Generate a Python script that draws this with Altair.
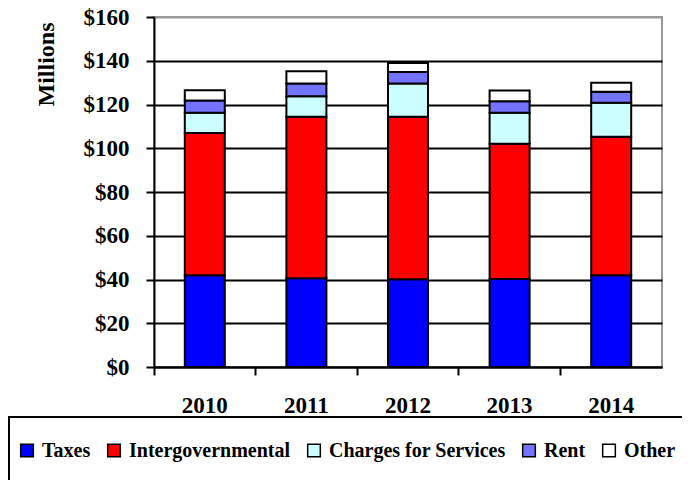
import altair as alt
import pandas as pd

years = ["2010", "2011", "2012", "2013", "2014"]
categories = ["Taxes", "Intergovernmental", "Charges for Services", "Rent", "Other"]
taxes = [41.9, 40.6, 40.1, 40.2, 41.9]
intergovernmental = [65.1, 73.8, 74.3, 61.9, 63.4]
charges = [9.2, 9.4, 15.2, 14.1, 15.5]
rent = [5.6, 5.8, 5.3, 5.3, 5.0]
other = [4.7, 5.6, 4.1, 4.9, 4.1]
y_ticks = [0, 20, 40, 60, 80, 100, 120, 140, 160]
colors = ["#0000ff", "#ff0000", "#ccffff", "#7373ff", "#ffffff"]

series = [taxes, intergovernmental, charges, rent, other]
rows = []
for i, yr in enumerate(years):
    for j, cat in enumerate(categories):
        rows.append({"Year": yr, "Source": cat, "Value": series[j][i], "order": j})
df = pd.DataFrame(rows)

FONT = "Liberation Serif"

bars = alt.Chart(df).mark_bar(width=40, stroke="black", strokeWidth=2).encode(
    x=alt.X(
        "Year:N",
        sort=years,
        scale=alt.Scale(paddingInner=0, paddingOuter=0),
        axis=alt.Axis(
            title=None, labelAngle=0, bandPosition=0,
            labelFont=FONT, labelFontSize=23, labelFontWeight="bold", labelColor="black",
            labelPadding=19, tickSize=8, tickWidth=2, tickColor="black",
            domainColor="black", domainWidth=2, grid=False,
        ),
    ),
    y=alt.Y(
        "Value:Q",
        stack="zero",
        scale=alt.Scale(domain=[0, 160], nice=False),
        axis=alt.Axis(
            values=y_ticks, labelExpr="'$' + datum.value",
            title="Millions", titleFont=FONT, titleFontSize=24, titleFontWeight="bold",
            titleColor="black", titleAngle=-90, titleX=-108, titleY=5,
            titleAlign="right", titleBaseline="middle",
            labelFont=FONT, labelFontSize=23, labelFontWeight="bold", labelColor="black",
            labelPadding=17, tickSize=8, tickWidth=2, tickColor="black",
            domainColor="black", domainWidth=2,
            grid=True, gridWidth=2,
            gridColor=alt.condition("datum.value == 160", alt.value("#999999"), alt.value("black")),
        ),
    ),
    color=alt.Color(
        "Source:N",
        sort=categories,
        scale=alt.Scale(domain=categories, range=colors),
        legend=alt.Legend(
            title=None, orient="none", legendX=-137, legendY=423.5, direction="horizontal",
            symbolType="square", symbolSize=160, symbolStrokeColor="black",
            symbolStrokeWidth=1.5, symbolOpacity=1,
            labelFont=FONT, labelFontSize=20, labelFontWeight="bold", labelColor="black",
            labelLimit=400, labelOffset=5, columnPadding=13,
        ),
    ),
    order=alt.Order("order:Q"),
)

box = alt.Chart(alt.Data(values=[{}])).mark_rect(
    fillOpacity=0, stroke="black", strokeWidth=2
).encode(
    x=alt.value(-145), x2=alt.value(529), y=alt.value(400), y2=alt.value(490)
)

chart = alt.layer(bars, box).properties(
    width=508,
    height=350,
    padding={"left": 146, "top": 9, "right": 20, "bottom": 113},
    autosize=alt.AutoSizeParams(type="none"),
).configure_view(stroke="#999999", strokeWidth=2)

chart.save("out.html", embed_options={"renderer": "svg", "actions": False})
